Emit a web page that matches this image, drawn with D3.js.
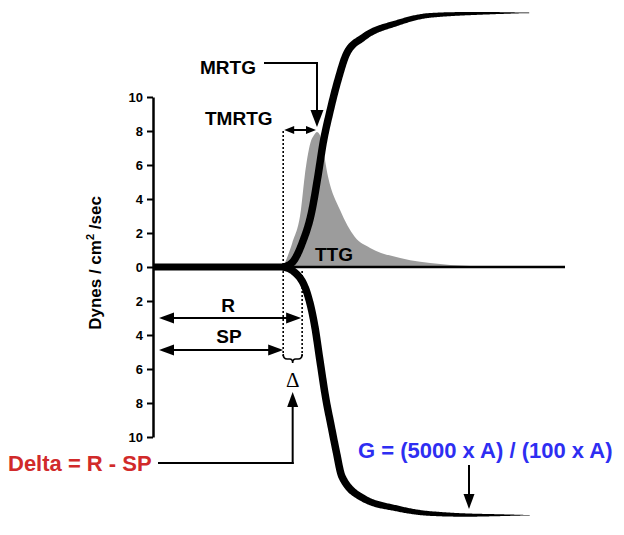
<!DOCTYPE html>
<html>
<head>
<meta charset="utf-8">
<script src="https://cdn.jsdelivr.net/npm/d3@7"></script>
<style>
  body { margin: 0; background: #fff; }
  svg { display: block; font-family: "Liberation Sans", Arial, sans-serif; }
</style>
</head>
<body>
<svg id="chart" width="624" height="535"></svg>
<script>
// TEG style tracing: amplitude (dynes/cm2/sec) against time (arbitrary units)

const timeDomain = [0, 100];
const ampTicks = [-10, -8, -6, -4, -2, 0, 2, 4, 6, 8, 10];

// upper clot curve [time, amplitude]
const clotUpper = [
  [31.6, 0], [33.7, 0.24], [36.2, 1.4], [38.6, 3.35], [40.0, 5.3], [41.3, 7.3],
  [43.0, 9.2], [44.9, 11.0], [47.1, 12.6], [51.0, 13.5], [59.2, 14.35],
  [67.2, 14.8], [79.4, 14.92], [91.5, 14.95]
];
// lower (mirror) clot curve [time, amplitude below baseline]
const clotLower = [
  [31.6, 0], [34.0, 0.24], [37.4, 1.53], [39.3, 3.53], [40.5, 5.47], [42.0, 7.82],
  [43.2, 9.3], [44.4, 10.76], [45.9, 12.35], [51.0, 13.6], [59.2, 14.2],
  [67.2, 14.5], [79.4, 14.6], [91.5, 14.6]
];
// thrombin generation velocity (TTG area)
const velocity = [
  [31.6, 0], [33.8, 1.41], [35.9, 3.35], [36.8, 5.29], [38.2, 7.29], [39.1, 7.76],
  [39.8, 7.94], [40.5, 7.76], [41.0, 7.29], [42.5, 5.29], [45.4, 3.35],
  [49.0, 1.76], [52.7, 1.12], [60.0, 0.53], [69.7, 0.18], [79.4, 0.03]
];

const R_TIME = 36.2, SP_TIME = 31.6, MRTG_TIME = 39.8, MRTG_VALUE = 8;

const svg = d3.select("#chart");

const x = d3.scaleLinear().domain(timeDomain).range([153, 565]);
const y = d3.scaleLinear().domain([-10, 10]).range([437, 97]);

// gray TTG area
svg.append("path")
  .datum(velocity)
  .attr("fill", "#9c9c9c")
  .attr("d", d3.area()
    .x(d => x(d[0]))
    .y0(y(0))
    .y1(d => y(d[1]))
    .curve(d3.curveMonotoneX));

// thin baseline to the right
svg.append("line")
  .attr("x1", x(SP_TIME)).attr("x2", x(100))
  .attr("y1", y(0)).attr("y2", y(0))
  .attr("stroke", "#000").attr("stroke-width", 2.5);

// axis
const axis = svg.append("g")
  .attr("transform", `translate(${x(0)},0)`)
  .call(d3.axisLeft(y).tickValues(ampTicks).tickFormat(d => Math.abs(d))
    .tickSize(6).tickSizeOuter(0).tickPadding(4));
axis.select(".domain").attr("stroke-width", 2.5);
axis.selectAll(".tick line").attr("stroke-width", 2);
axis.selectAll(".tick text")
  .attr("font-size", 13).attr("font-weight", "bold")
  .attr("font-family", "Liberation Sans, Arial, sans-serif").attr("fill", "#000");

svg.append("text")
  .attr("transform", `translate(101,${y(0) - 4}) rotate(-90)`)
  .attr("text-anchor", "middle")
  .attr("font-size", 17).attr("font-weight", "bold")
  .call(t => {
    t.append("tspan").text("Dynes / cm");
    t.append("tspan").attr("dy", -7).attr("font-size", 11).text("2");
    t.append("tspan").attr("dy", 7).text(" /sec");
  });

// dotted guides
const dotted = (x0, y0, x1, y1) => svg.append("line")
  .attr("x1", x0).attr("y1", y0).attr("x2", x1).attr("y2", y1)
  .attr("stroke", "#000").attr("stroke-width", 1.6).attr("stroke-dasharray", "2,2");
dotted(x(SP_TIME), y(MRTG_VALUE), x(SP_TIME), 356);
dotted(x(R_TIME), y(0) + 4, x(R_TIME), 356);

// thick baseline (before clotting starts)
svg.append("line")
  .attr("x1", x(0)).attr("x2", x(SP_TIME) + 6)
  .attr("y1", y(0)).attr("y2", y(0))
  .attr("stroke", "#000").attr("stroke-width", 7);

// tapered thick curves
function tapered(data, sign) {
  const line = d3.line()
    .x(d => x(d[0]))
    .y(d => y(sign * d[1]))
    .curve(d3.curveMonotoneX);
  const tmp = svg.append("path").attr("d", line(data)).attr("fill", "none");
  const node = tmp.node();
  const L = node.getTotalLength();
  const widthAt = px => {
    if (px < 350) return 7.5;
    const t = Math.min(1, (px - 350) / 182);
    return Math.max(0.6, 7.5 * Math.pow(1 - t, 0.8));
  };
  const left = [], right = [];
  for (let s = 0; s <= L + 0.01; s += 1) {
    const ss = Math.min(s, L);
    const p = node.getPointAtLength(ss);
    const a = node.getPointAtLength(Math.max(0, ss - 0.7));
    const b = node.getPointAtLength(Math.min(L, ss + 0.7));
    let dx = b.x - a.x, dy = b.y - a.y;
    const n = Math.hypot(dx, dy) || 1;
    dx /= n; dy /= n;
    const w = widthAt(p.x) / 2;
    left.push([p.x - dy * w, p.y + dx * w]);
    right.push([p.x + dy * w, p.y - dx * w]);
  }
  tmp.remove();
  const pts = left.concat(right.reverse());
  svg.append("path")
    .attr("d", "M" + pts.map(p => p[0].toFixed(2) + "," + p[1].toFixed(2)).join("L") + "Z")
    .attr("fill", "#000");
}
tapered(clotUpper, 1);
tapered(clotLower, -1);

// arrow helpers
function head(tx, ty, dir, len, hw) {
  // dir: unit vector pointing toward tip
  const [ux, uy] = dir;
  const bx = tx - ux * len, by = ty - uy * len;
  svg.append("path")
    .attr("d", `M${tx},${ty}L${bx - uy * hw},${by + ux * hw}L${bx + uy * hw},${by - ux * hw}Z`)
    .attr("fill", "#000");
}
function seg(x0, y0, x1, y1, w = 2) {
  svg.append("line").attr("x1", x0).attr("y1", y0).attr("x2", x1).attr("y2", y1)
    .attr("stroke", "#000").attr("stroke-width", w);
}
function doubleArrow(x0, x1, yy, len, hw) {
  seg(x0 + len - 2, yy, x1 - len + 2, yy);
  head(x0, yy, [-1, 0], len, hw);
  head(x1, yy, [1, 0], len, hw);
}

// R and SP
doubleArrow(159, x(R_TIME) - 1, 318, 15, 5.5);
doubleArrow(159, x(SP_TIME), 350, 15, 5.5);

// TMRTG
doubleArrow(x(SP_TIME) + 1, x(MRTG_TIME) - 1, y(MRTG_VALUE) - 1, 10, 4);

// MRTG callout
seg(264, 63, x(MRTG_TIME), 63);
seg(x(MRTG_TIME), 62, x(MRTG_TIME), 112);
head(x(MRTG_TIME), 127, [0, 1], 17, 6.5);

// brace under delta
const bl = x(SP_TIME), br = x(R_TIME), bm = (bl + br) / 2;
svg.append("path")
  .attr("d", `M${bl},354 Q${bl},359 ${bl + 4},359 L${bm - 3},359 Q${bm},359 ${bm},363 Q${bm},359 ${bm + 3},359 L${br - 4},359 Q${br},359 ${br},354`)
  .attr("fill", "none").attr("stroke", "#000").attr("stroke-width", 1.6);

svg.append("text")
  .attr("x", bm).attr("y", 387)
  .attr("text-anchor", "middle")
  .attr("font-family", "Liberation Serif, Times New Roman, serif")
  .attr("font-size", 21)
  .text("Δ");

// Delta callout
seg(158, 463, bm + 1, 463);
seg(bm, 464, bm, 404);
head(bm, 392, [0, -1], 15, 5.5);

// G callout
seg(469, 465, 469, 496);
head(469, 509, [0, 1], 15, 5.5);

// labels
const label = (tx, ty, txt, size = 19, color = "#000", anchor = "start") =>
  svg.append("text").attr("x", tx).attr("y", ty)
    .attr("font-size", size).attr("font-weight", "bold")
    .attr("fill", color).attr("text-anchor", anchor).text(txt);

label(200, 74, "MRTG");
label(205, 125, "TMRTG");
label(315, 261, "TTG");
label(228, 312, "R", 19, "#000", "middle");
label(229, 343, "SP", 19, "#000", "middle");
label(8, 471, "Delta = R - SP", 22, "#d12a2a");
label(358, 458, "G = (5000 x A) / (100 x A)", 22, "#2e2ef2");
</script>
</body>
</html>
